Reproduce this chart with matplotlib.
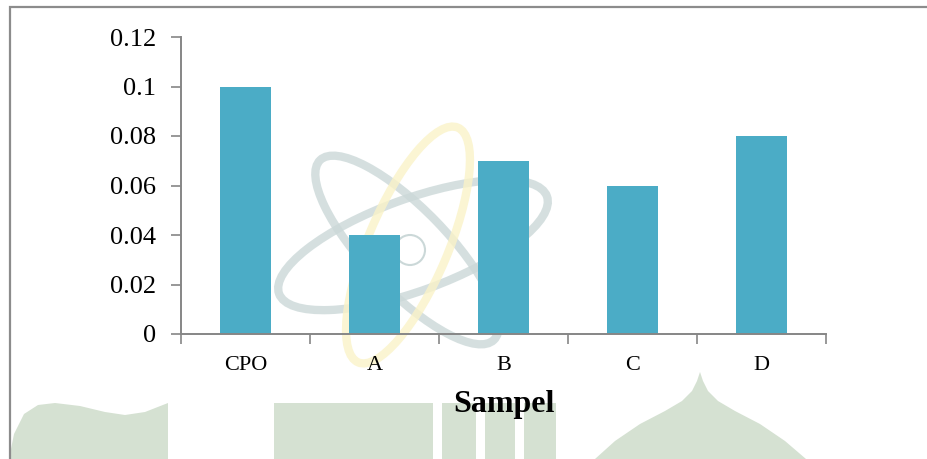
import matplotlib

matplotlib.use("Agg")
import matplotlib.pyplot as plt  # noqa: E402
from matplotlib.patches import Circle, Ellipse, Polygon, Rectangle  # noqa: E402

samples = ["CPO", "A", "B", "C", "D"]
values = [0.10, 0.04, 0.07, 0.06, 0.08]
y_ticks = [0, 0.02, 0.04, 0.06, 0.08, 0.10, 0.12]
y_tick_labels = ["0", "0.02", "0.04", "0.06", "0.08", "0.1", "0.12"]

BAR_COLOR = "#4BACC6"
AXIS_COLOR = "#868686"
MARK_GREEN = "#d5e1d2"
MARK_GREY = "#cbd8d8"
MARK_YELLOW = "#faf3c8"

W, H = 928, 459

plt.rcParams["font.family"] = ["Liberation Serif", "DejaVu Serif"]

fig = plt.figure(figsize=(W / 100, H / 100), dpi=100)
fig.patch.set_facecolor("white")

# faint background emblem, in pixel units (y measured upward)
bg = fig.add_axes([0, 0, 1, 1], zorder=0)
bg.set_xlim(0, W)
bg.set_ylim(0, H)
bg.axis("off")

bg.add_patch(Polygon(
    [(9, 0), (14, 25), (24, 45), (38, 54), (55, 56), (80, 53), (105, 47),
     (125, 44), (145, 47), (168, 56), (168, 0)],
    closed=True, facecolor=MARK_GREEN, edgecolor="none"))
for x0, x1 in [(274, 433), (442, 476), (485, 515), (524, 556)]:
    bg.add_patch(Rectangle((x0, 0), x1 - x0, 56, facecolor=MARK_GREEN, edgecolor="none"))
bg.add_patch(Polygon(
    [(595, 0), (615, 18), (640, 35), (665, 48), (682, 58), (692, 68), (697, 78),
     (700, 87), (703, 78), (708, 68), (718, 58), (735, 48), (760, 35), (785, 18),
     (806, 0)],
    closed=True, facecolor=MARK_GREEN, edgecolor="none"))

for (cx, cy), w, h, ang, col in [
    ((413, 214), 285, 92, 20, MARK_GREY),
    ((407, 209), 250, 82, -46, MARK_GREY),
    ((408, 214), 255, 80, 67, MARK_YELLOW),
]:
    bg.add_patch(Ellipse((cx, cy), w, h, angle=ang, fill=False,
                         edgecolor=col, linewidth=6, alpha=0.8))
bg.add_patch(Circle((410, 209), 15, fill=False, edgecolor=MARK_GREY, linewidth=1.5))

# outer frame around the chart area
fig.add_artist(
    Rectangle(
        (10 / W, -0.2), 1.2, 1.2 - 7 / H,
        transform=fig.transFigure, fill=False,
        edgecolor="#8c8c8c", linewidth=1.6,
    )
)

ax = fig.add_axes([181 / W, 1 - 334 / H, (826 - 181) / W, (334 - 37) / H], zorder=1)
x = list(range(len(samples)))
ax.bar(x, values, width=0.4, color=BAR_COLOR, zorder=2)

ax.set_xlim(-0.5, len(samples) - 0.5)
ax.set_ylim(0, 0.12)
ax.set_yticks(y_ticks)
ax.set_yticklabels(y_tick_labels, fontsize=19)
ax.set_xticks(x)
ax.set_xticklabels(samples, fontsize=16)
ax.tick_params(axis="x", length=0, pad=15.5)
ax.tick_params(axis="y", length=7, width=1.2, color=AXIS_COLOR, pad=11)

# category boundary ticks below the x axis
ax.set_xticks([i - 0.5 for i in range(len(samples) + 1)], minor=True)
ax.tick_params(axis="x", which="minor", length=7, width=1.2, color=AXIS_COLOR)

for side in ("top", "right"):
    ax.spines[side].set_visible(False)
for side in ("left", "bottom"):
    ax.spines[side].set_color(AXIS_COLOR)
    ax.spines[side].set_linewidth(1.4)

ax.set_xlabel("Sampel", fontsize=23, fontweight="bold", labelpad=11)
ax.patch.set_alpha(0)

fig.savefig("out.png", dpi=100, facecolor="white")
